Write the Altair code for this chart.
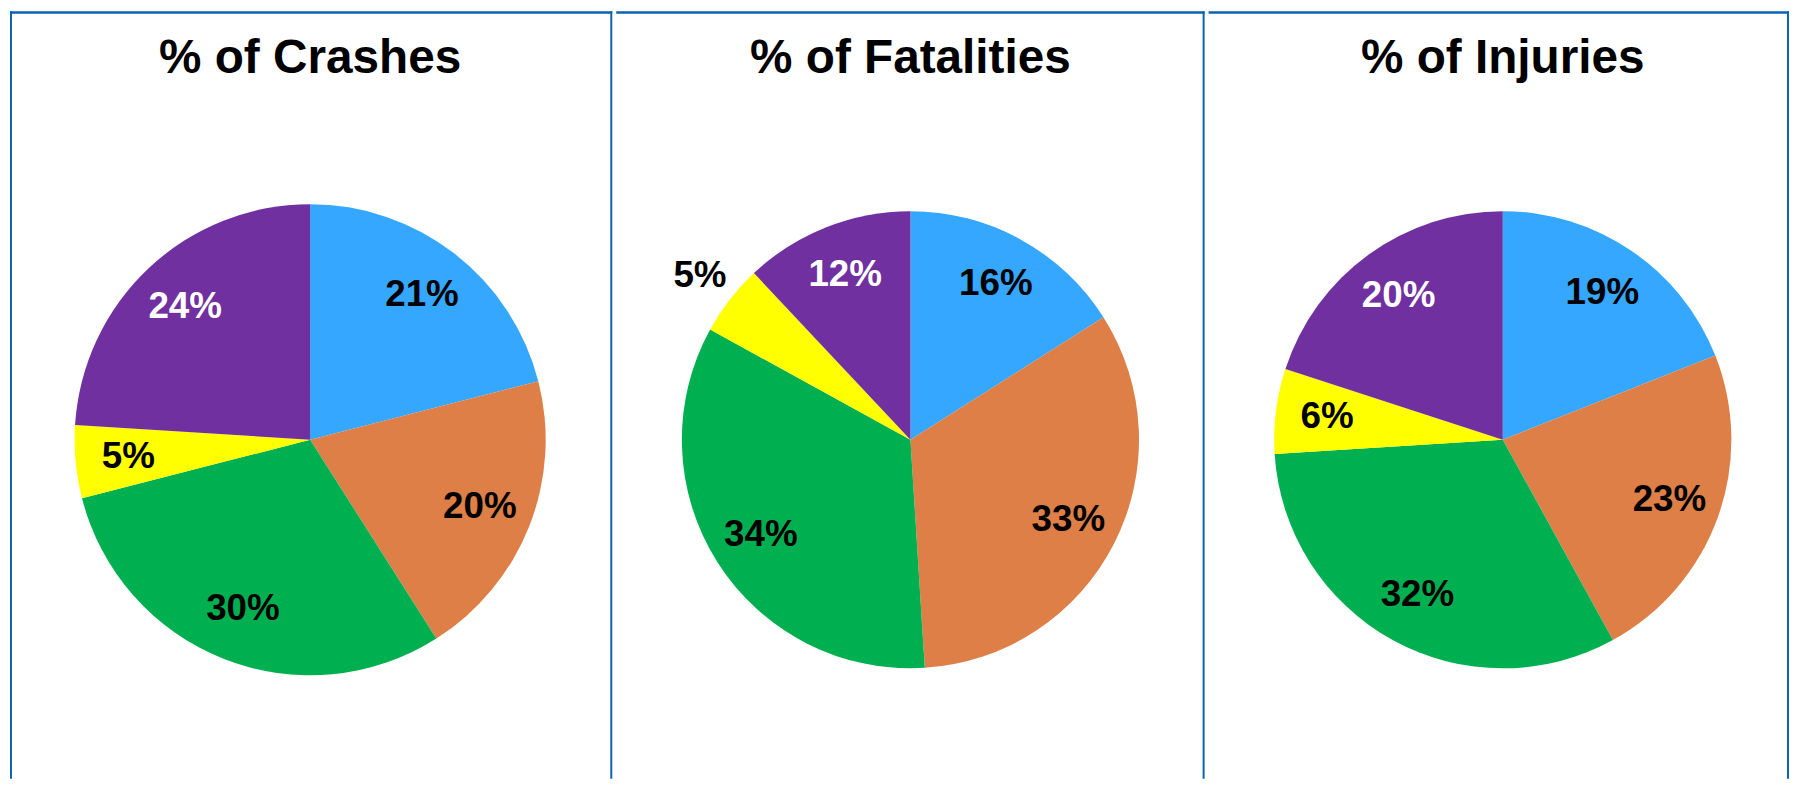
import altair as alt
import pandas as pd

# ---- data ----
titles = ["% of Crashes", "% of Fatalities", "% of Injuries"]
groups = ["Group A", "Group B", "Group C", "Group D", "Group E"]
crashes = [21, 20, 30, 5, 24]
fatalities = [16, 33, 34, 5, 12]
injuries = [19, 23, 32, 6, 20]
series = [crashes, fatalities, injuries]

# ---- styles / layout ----
colors = ["#35A7FF", "#DD7F46", "#00B050", "#FFFF00", "#7030A0"]
border = "#0A62B2"
font = "Liberation Sans"
panel_w = [606, 592, 584]
panel_h = 772
centers = [(302, 431), (296, 431), (296, 431)]
radii = [237, 230, 230]
inner_ratio = 0.775
outside_labels = {(1, "Group D")}   # label drawn outside the pie
outer_radius = 268

panels = []
for i, vals in enumerate(series):
    cx, cy = centers[i]
    r = radii[i]
    w = panel_w[i]
    labels = [f"{v}%" for v in vals]
    df = pd.DataFrame({
        "group": groups,
        "value": vals,
        "order": list(range(len(groups))),
        "inner": [("" if (i, g) in outside_labels else l) for g, l in zip(groups, labels)],
        "outer": [(l if (i, g) in outside_labels else "") for g, l in zip(groups, labels)],
    })
    base = alt.Chart(df)
    theta = alt.Theta("value:Q", stack=True)
    order = alt.Order("order:Q")

    arcs = base.mark_arc(radius=r).encode(
        theta=theta, order=order,
        color=alt.Color("group:N", scale=alt.Scale(domain=groups, range=colors), legend=None),
        x=alt.value(cx), y=alt.value(cy),
    )
    inner = base.mark_text(
        radius=r * inner_ratio, font=font, fontSize=37, fontWeight="bold",
        align="center", baseline="middle",
    ).encode(
        theta=theta, order=order, text="inner:N",
        color=alt.condition(alt.datum.group == "Group E", alt.value("white"), alt.value("black")),
        x=alt.value(cx), y=alt.value(cy),
    )
    outer = base.mark_text(
        radius=outer_radius, font=font, fontSize=37, fontWeight="bold",
        align="center", baseline="middle", color="black",
    ).encode(
        theta=theta, order=order, text="outer:N",
        x=alt.value(cx), y=alt.value(cy),
    )
    tdf = pd.DataFrame({"t": [titles[i]]})
    title = alt.Chart(tdf).mark_text(
        font=font, fontSize=48, fontWeight="bold", align="center", baseline="alphabetic", color="black"
    ).encode(text="t:N", x=alt.value(cx), y=alt.value(62))

    top = alt.Chart(tdf).mark_rule(color=border, strokeWidth=2.5).encode(
        x=alt.value(0), x2=alt.value(w), y=alt.value(1.25))
    right = alt.Chart(tdf).mark_rule(color=border, strokeWidth=2).encode(
        x=alt.value(w - 1), y=alt.value(0), y2=alt.value(panel_h))
    layers = [arcs, inner, outer, title, top, right]
    if i == 0:
        left = alt.Chart(tdf).mark_rule(color=border, strokeWidth=2).encode(
            x=alt.value(1), y=alt.value(0), y2=alt.value(panel_h))
        layers.append(left)
    panels.append(alt.layer(*layers).properties(width=w, height=panel_h))

chart = alt.hconcat(*panels, spacing=0).properties(padding=0).configure_view(stroke=None)
chart.save("out.html", embed_options={"renderer": "svg", "actions": False})
